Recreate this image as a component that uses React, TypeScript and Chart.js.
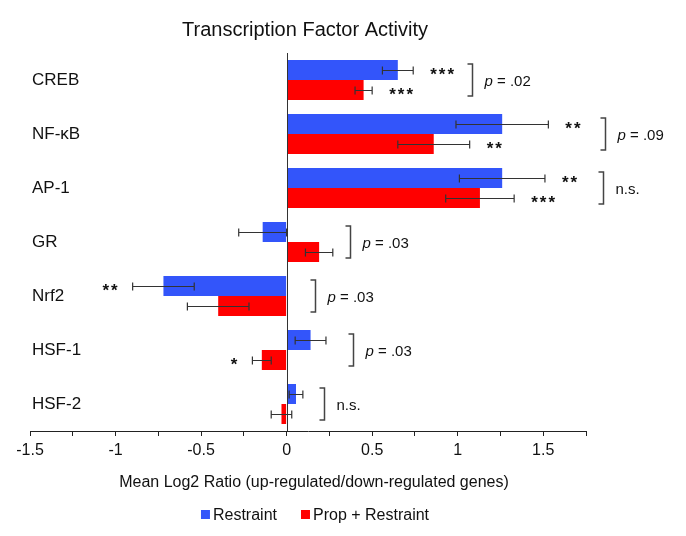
import React, { useEffect, useRef } from 'react';
import { Chart, registerables } from 'chart.js';

Chart.register(...registerables);

const CATEGORIES = ['CREB', 'NF-κB', 'AP-1', 'GR', 'Nrf2', 'HSF-1', 'HSF-2'];
const SERIES_NAMES = ['Restraint', 'Prop + Restraint'];
const RESTRAINT = [0.65, 1.26, 1.26, -0.14, -0.72, 0.14, 0.055];
const RESTRAINT_ERR = [0.09, 0.27, 0.25, 0.14, 0.18, 0.09, 0.04];
const PROP_RESTRAINT = [0.45, 0.86, 1.13, 0.19, -0.4, -0.145, -0.03];
const PROP_RESTRAINT_ERR = [0.05, 0.21, 0.2, 0.08, 0.18, 0.055, 0.06];
const RESTRAINT_SIG = ['***', '**', '**', '', '**', '', ''];
const PROP_SIG = ['***', '**', '***', '', '', '*', ''];
const COMPARISON = ['p = .02', 'p = .09', 'n.s.', 'p = .03', 'p = .03', 'p = .03', 'n.s.'];
const BRACKET_AT = [1.083, 1.86, 1.85, 0.37, 0.164, 0.386, 0.22];
const X_MIN = -1.5;
const X_MAX = 1.75;
const X_STEP = 0.25;
const TITLE = 'Transcription Factor Activity';
const X_TITLE = 'Mean Log2 Ratio (up-regulated/down-regulated genes)';

const BLUE = '#3355FA';
const RED = '#FF0000';
const FONT = '"Liberation Sans", Arial, Helvetica, sans-serif';

const overlay = {
  id: 'overlay',
  afterDatasetsDraw(chart: any) {
    const { ctx, chartArea, scales } = chart;
    const xs = scales.x;
    const ys = scales.y;
    ctx.save();
    // zero line
    const x0 = Math.round(xs.getPixelForValue(0)) + 0.5;
    ctx.strokeStyle = '#333';
    ctx.lineWidth = 1;
    ctx.beginPath();
    ctx.moveTo(x0, chartArea.top);
    ctx.lineTo(x0, chartArea.bottom);
    ctx.stroke();

    const errs = [RESTRAINT_ERR, PROP_RESTRAINT_ERR];
    const sigs = [RESTRAINT_SIG, PROP_SIG];
    chart.data.datasets.forEach((ds: any, di: number) => {
      const meta = chart.getDatasetMeta(di);
      meta.data.forEach((bar: any, j: number) => {
        const v = ds.data[j];
        const e = errs[di][j];
        const xl = xs.getPixelForValue(v - e);
        const xr = xs.getPixelForValue(v + e);
        const y = Math.round(bar.y) + 0.5;
        ctx.strokeStyle = '#333';
        ctx.lineWidth = 1.2;
        ctx.beginPath();
        ctx.moveTo(xl, y);
        ctx.lineTo(xr, y);
        ctx.moveTo(xl, y - 4);
        ctx.lineTo(xl, y + 4);
        ctx.moveTo(xr, y - 4);
        ctx.lineTo(xr, y + 4);
        ctx.stroke();
        const s = sigs[di][j];
        if (s) {
          ctx.font = `bold 17px ${FONT}`;
          (ctx as any).letterSpacing = '2px';
          ctx.fillStyle = '#111';
          ctx.textBaseline = 'alphabetic';
          if (v >= 0) {
            ctx.textAlign = 'left';
            ctx.fillText(s, xr + 17, bar.y + 10);
          } else {
            ctx.textAlign = 'right';
            ctx.fillText(s, xl - 13, bar.y + 10);
          }
          (ctx as any).letterSpacing = '0px';
        }
      });
    });

    CATEGORIES.forEach((c, j) => {
      const yc = ys.getPixelForValue(j);
      const bx = Math.round(xs.getPixelForValue(BRACKET_AT[j])) + 0.5;
      ctx.strokeStyle = '#444';
      ctx.lineWidth = 1.5;
      ctx.beginPath();
      ctx.moveTo(bx - 5, yc - 16);
      ctx.lineTo(bx, yc - 16);
      ctx.lineTo(bx, yc + 16);
      ctx.lineTo(bx - 5, yc + 16);
      ctx.stroke();

      const t = COMPARISON[j];
      ctx.fillStyle = '#111';
      ctx.textAlign = 'left';
      ctx.textBaseline = 'alphabetic';
      let tx = bx + 12;
      const ty = yc + 5.5;
      if (t.startsWith('p ')) {
        ctx.font = `italic 15px ${FONT}`;
        ctx.fillText('p', tx, ty);
        tx += ctx.measureText('p').width;
        ctx.font = `15px ${FONT}`;
        ctx.fillText(t.slice(1), tx, ty);
      } else {
        ctx.font = `15px ${FONT}`;
        ctx.fillText(t, tx, ty);
      }

      // category label
      ctx.font = `17px ${FONT}`;
      ctx.fillText(c, 32, yc + 5);
    });
    ctx.restore();
  },
  afterDraw(chart: any) {
    const { ctx, chartArea } = chart;
    ctx.save();
    ctx.fillStyle = '#111';
    ctx.textBaseline = 'alphabetic';
    ctx.textAlign = 'center';
    ctx.font = `20px ${FONT}`;
    ctx.fillText(TITLE, (chartArea.left + chartArea.right) / 2 - 3, 36);
    ctx.font = `16px ${FONT}`;
    ctx.fillText(X_TITLE, 314, 487);

    // legend
    ctx.font = `16px ${FONT}`;
    const items = chart.data.datasets.map((d: any) => ({ label: d.label, color: d.backgroundColor }));
    const box = 9;
    const gapBox = 3;
    const gapItem = 24;
    const widths = items.map((it: any) => box + gapBox + ctx.measureText(it.label).width);
    const total = widths.reduce((a: number, b: number) => a + b, 0) + gapItem * (items.length - 1);
    let x = 315 - total / 2;
    ctx.textAlign = 'left';
    items.forEach((it: any, i: number) => {
      ctx.fillStyle = it.color;
      ctx.fillRect(x, 510, box, box);
      ctx.fillStyle = '#111';
      ctx.fillText(it.label, x + box + gapBox, 520);
      x += widths[i] + gapItem;
    });
    ctx.restore();
  },
};

export default function App() {
  const ref = useRef<HTMLCanvasElement>(null);
  useEffect(() => {
    if (!ref.current) return;
    const chart = new Chart(ref.current, {
      type: 'bar',
      data: {
        labels: CATEGORIES,
        datasets: [
          {
            label: SERIES_NAMES[0],
            data: RESTRAINT,
            backgroundColor: BLUE,
            categoryPercentage: 0.74,
            barPercentage: 1,
          },
          {
            label: SERIES_NAMES[1],
            data: PROP_RESTRAINT,
            backgroundColor: RED,
            categoryPercentage: 0.74,
            barPercentage: 1,
          },
        ],
      },
      options: {
        indexAxis: 'y',
        animation: false,
        responsive: false,
        devicePixelRatio: 1,
        layout: { padding: { left: 30, right: 100, top: 53, bottom: 65 } },
        plugins: {
          legend: { display: false },
          title: { display: false },
          tooltip: { enabled: false },
        },
        scales: {
          x: {
            type: 'linear',
            min: X_MIN,
            max: X_MAX,
            afterFit: (s: any) => {
              s.height = 40;
            },
            grid: { drawOnChartArea: false, drawTicks: true, tickLength: 5, color: '#222' },
            border: { display: true, color: '#222', width: 1 },
            ticks: {
              stepSize: X_STEP,
              autoSkip: false,
              maxRotation: 0,
              padding: 5,
              color: '#111',
              font: { family: FONT, size: 16 },
              callback: (v: any) => {
                const n = Number(v);
                return Math.abs(n * 2 - Math.round(n * 2)) < 1e-9 ? String(n) : '';
              },
            },
          },
          y: {
            type: 'category',
            display: false,
          },
        },
      } as any,
      plugins: [overlay],
    });
    return () => chart.destroy();
  }, []);
  return (
    <div style={{ position: 'absolute', left: 0, top: 0, width: 686, height: 536 }}>
      <canvas ref={ref} width={686} height={536} style={{ display: 'block' }} />
    </div>
  );
}
